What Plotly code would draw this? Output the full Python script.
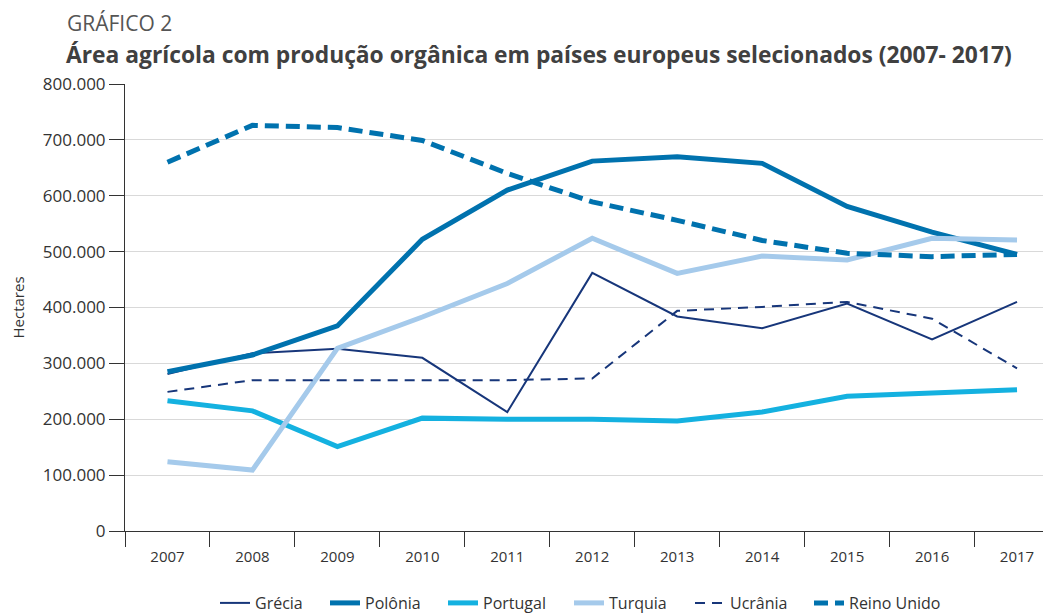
import plotly.graph_objects as go

years = ["2007", "2008", "2009", "2010", "2011", "2012", "2013", "2014", "2015", "2016", "2017"]
grecia = [281000, 318000, 326000, 310000, 213000, 462000, 384000, 363000, 407000, 343000, 410000]
polonia = [285000, 315000, 367000, 522000, 610000, 662000, 670000, 658000, 581000, 535000, 495000]
portugal = [233000, 215000, 151000, 202000, 200000, 200000, 197000, 213000, 241000, 246000, 253000]
turquia = [124000, 109000, 327000, 383000, 443000, 524000, 461000, 492000, 485000, 524000, 521000]
ucrania = [249000, 270000, 270000, 270000, 270000, 273000, 394000, 401000, 410000, 380000, 291000]
reino_unido = [660000, 726000, 722000, 699000, 640000, 589000, 556000, 520000, 497000, 491000, 495000]

series = [
    ("Grécia", grecia, "#17367a", 2, "solid"),
    ("Polônia", polonia, "#0072ae", 5, "solid"),
    ("Portugal", portugal, "#14b1e0", 5, "solid"),
    ("Turquia", turquia, "#a5caeb", 5, "solid"),
    ("Ucrânia", ucrania, "#17367a", 2, "10px,7px"),
    ("Reino Unido", reino_unido, "#0072ae", 5, "14px,7px"),
]
# page x where each legend entry's line sample starts
legend_starts = [223, 333, 451, 577, 698, 817]

font_family = "Open Sans"
# page body has an 8px margin: work in page pixels minus 8
OFF = 8
W, H = 1051 - OFF, 613 - OFF
L, T = 125 - OFF, 84 - OFF
PB = 531 - OFF
B = H - PB
PW, PH = W - L, PB - T


def px_x(p):
    return (p - OFF - L) / PW


def px_y(p):
    return (PB - (p - OFF)) / PH


fig = go.Figure()
legend_layouts = {}
for i, (name, vals, color, w, dash) in enumerate(series):
    lg = "legend" if i == 0 else f"legend{i + 1}"
    fig.add_trace(go.Scatter(
        x=years, y=vals, name=name, mode="lines",
        line=dict(color=color, width=w, dash=dash),
        legend=lg,
    ))
    legend_layouts[lg] = dict(
        orientation="h", x=px_x(legend_starts[i] - 8), xanchor="left",
        y=px_y(603), yanchor="middle",
        font=dict(size=16, color="#333333"),
        bgcolor="rgba(0,0,0,0)",
    )

fig.update_layout(
    width=W, height=H,
    margin=dict(l=L, r=0, t=T, b=B, autoexpand=False),
    plot_bgcolor="white", paper_bgcolor="white",
    separators=",.",
    font=dict(family=font_family, size=15, color="#333333"),
    showlegend=True,
    **legend_layouts,
)
fig.add_annotation(text="GRÁFICO 2", xref="paper", yref="paper",
                   x=px_x(65), y=px_y(23), xanchor="left", yanchor="middle",
                   showarrow=False, font=dict(size=21, color="#555555", family=font_family))
fig.add_annotation(text="<b>Área agrícola com produção orgânica em países europeus selecionados (2007- 2017)</b>",
                   xref="paper", yref="paper",
                   x=px_x(64), y=px_y(55), xanchor="left", yanchor="middle",
                   showarrow=False, font=dict(size=22.8, color="#404040", family=font_family))

fig.update_xaxes(
    type="category", range=[-0.5, 10.4], tickson="boundaries",
    ticks="outside", ticklen=15, tickcolor="#333333",
    showline=True, linecolor="#333333", linewidth=1,
    showgrid=False, tickfont=dict(size=15, color="#333333"),
    ticklabelstandoff=12,
)
fig.update_yaxes(
    range=[0, 800000], tickvals=[0, 100000, 200000, 300000, 400000, 500000, 600000, 700000, 800000],
    tickformat=",d", ticks="outside", ticklen=15, tickcolor="#333333",
    showline=True, linecolor="#333333", linewidth=1,
    showgrid=True, gridcolor="#d9d9d9", gridwidth=1,
    zeroline=False,
    tickfont=dict(size=17, color="#333333"),
    title=dict(text="Hectares", font=dict(size=15, color="#333333"), standoff=16),
)

fig.write_html("out.html")
